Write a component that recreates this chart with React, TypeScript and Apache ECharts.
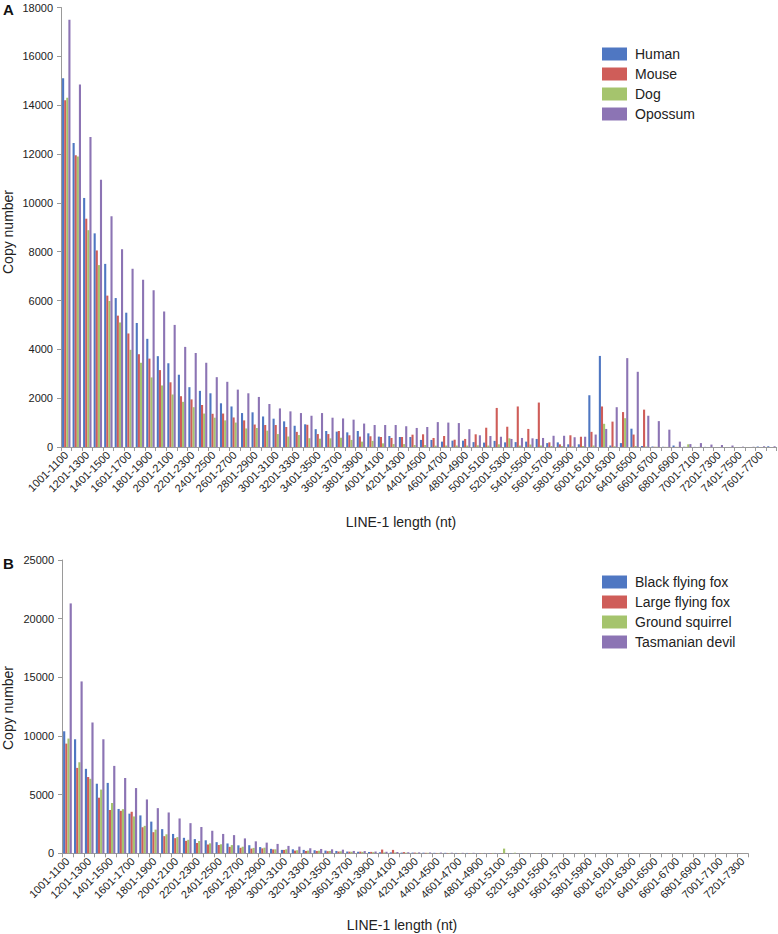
import React, { useEffect, useRef } from 'react';
import * as echarts from 'echarts';

const lengthBins = [
  '1001-1100','1101-1200','1201-1300','1301-1400','1401-1500','1501-1600','1601-1700','1701-1800','1801-1900','1901-2000',
  '2001-2100','2101-2200','2201-2300','2301-2400','2401-2500','2501-2600','2601-2700','2701-2800','2801-2900','2901-3000',
  '3001-3100','3101-3200','3201-3300','3301-3400','3401-3500','3501-3600','3601-3700','3701-3800','3801-3900','3901-4000',
  '4001-4100','4101-4200','4201-4300','4301-4400','4401-4500','4501-4600','4601-4700','4701-4800','4801-4900','4901-5000',
  '5001-5100','5101-5200','5201-5300','5301-5400','5401-5500','5501-5600','5601-5700','5701-5800','5801-5900','5901-6000',
  '6001-6100','6101-6200','6201-6300','6301-6400','6401-6500','6501-6600','6601-6700','6701-6800','6801-6900','6901-7000',
  '7001-7100','7101-7200','7201-7300','7301-7400','7401-7500','7501-7600','7601-7700','7701-7800'
];
const binsA = lengthBins;
const binsB = lengthBins.slice(0, 63);

// Panel A
const human = [15100,12450,10200,8750,7500,6100,5500,5080,4430,3720,3430,2960,2450,2300,2200,1790,1660,1390,1420,1250,1160,1050,870,930,730,655,630,600,655,560,425,450,410,410,290,290,220,260,260,200,180,250,190,200,220,330,160,190,110,110,2120,3730,60,160,750,40,20,10,60,10,5,5,0,0,0,0,20,30];
const mouse = [14200,11950,9350,8050,6200,5380,4650,3800,3620,3150,2650,2080,1950,1720,1360,1370,1210,1090,920,900,900,820,620,910,530,530,655,480,425,440,410,370,410,505,520,370,450,300,330,520,790,1600,830,1660,740,1820,190,110,480,420,620,1660,1040,1430,510,1530,10,5,5,5,0,0,0,0,0,0,0,0];
const dog = [14300,11900,8880,7450,5980,5100,3980,3450,2850,2520,2150,1850,1630,1370,1200,1090,1000,760,780,670,530,430,490,360,340,355,380,290,220,250,150,120,120,80,80,55,60,60,60,70,60,110,355,60,100,60,40,40,30,40,60,950,30,1180,40,20,10,5,5,110,5,0,0,0,0,0,0,0];
const opossum = [17500,14850,12700,10950,9450,8100,7300,6850,6420,5550,5000,4100,3850,3450,2860,2670,2350,2200,2050,1760,1580,1460,1390,1280,1390,1200,1170,1120,960,900,900,900,850,780,820,1020,1000,980,730,480,450,420,330,370,355,370,460,460,400,420,510,740,1630,3640,3080,1280,1060,710,220,120,160,100,80,60,15,10,30,30];

// Panel B
const blackFlyingFox = [10400,9720,7200,5930,6000,3780,3380,3230,2700,2060,1650,1320,1210,1110,950,840,680,690,530,380,290,340,290,260,230,200,150,130,110,90,80,60,60,50,40,40,30,30,20,20,20,20,20,15,15,15,10,10,10,10,10,10,10,10,5,5,5,5,5,5,5,5,5];
const largeFlyingFox = [9350,7280,6500,4740,3690,3620,3540,2220,1800,1460,1290,1060,880,750,710,550,470,400,420,330,290,230,200,200,180,150,140,140,120,320,290,100,60,40,30,30,20,20,20,20,20,10,10,10,10,10,10,5,5,5,5,5,5,5,5,5,5,5,5,5,5,5,5];
const groundSquirrel = [9780,7760,6350,5430,4290,3760,3140,2340,2020,1620,1380,1150,1050,850,770,700,560,460,480,340,340,260,230,220,200,170,130,120,100,80,70,50,40,40,30,30,20,20,20,30,400,50,20,20,15,15,10,30,10,10,10,10,5,5,5,5,5,5,5,5,5,5,5];
const tasmanianDevil = [21300,14650,11150,9720,7450,6420,5560,4590,3850,3480,2970,2570,2240,1920,1650,1550,1270,1020,910,800,630,570,430,370,340,310,200,190,150,130,110,90,80,70,60,50,40,40,30,30,30,20,20,20,15,15,10,10,10,10,10,10,5,5,5,5,5,5,5,5,5,5,5];

const namesA = ['Human', 'Mouse', 'Dog', 'Opossum'];
const namesB = ['Black flying fox', 'Large flying fox', 'Ground squirrel', 'Tasmanian devil'];
const colors = ['#4F77C2', '#CF5D59', '#A5C46D', '#8C74B4'];

const FONT = '"Liberation Sans", Arial, Helvetica, sans-serif';
const AXIS_COLOR = '#9a9a9a';
const TEXT_COLOR = '#222';

function buildOption() {
  const xAxisCommon = {
    type: 'category' as const,
    axisLine: { show: true, lineStyle: { color: AXIS_COLOR, width: 1 } },
    axisTick: { show: true, interval: 0, length: 4, lineStyle: { color: AXIS_COLOR } },
    axisLabel: { interval: 1, rotate: 45, fontSize: 11, color: TEXT_COLOR, fontFamily: FONT, margin: 6 },
    splitLine: { show: false },
  };
  const yAxisCommon = {
    type: 'value' as const,
    min: 0,
    axisLine: { show: true, lineStyle: { color: AXIS_COLOR, width: 1 } },
    axisTick: { show: true, length: 4, lineStyle: { color: AXIS_COLOR } },
    axisLabel: { fontSize: 11, color: TEXT_COLOR, fontFamily: FONT, margin: 8, formatter: (v: number) => String(v) },
    splitLine: { show: false },
  };
  const barCommon = {
    type: 'bar' as const,
    barGap: '0%',
    barCategoryGap: '20%',
  };
  const seriesA = [human, mouse, dog, opossum].map((d, i) => ({
    ...barCommon,
    name: namesA[i],
    xAxisIndex: 0,
    yAxisIndex: 0,
    data: d,
    itemStyle: { color: colors[i] },
  }));
  const seriesB = [blackFlyingFox, largeFlyingFox, groundSquirrel, tasmanianDevil].map((d, i) => ({
    ...barCommon,
    name: namesB[i],
    xAxisIndex: 1,
    yAxisIndex: 1,
    data: d,
    itemStyle: { color: colors[i] },
  }));
  const legendCommon = {
    orient: 'vertical' as const,
    icon: 'rect',
    itemWidth: 25,
    itemHeight: 13,
    itemGap: 6,
    padding: 0,
    textStyle: { fontSize: 14, color: TEXT_COLOR, fontFamily: FONT, padding: [0, 0, 0, 3] },
    selectedMode: false,
  };
  return {
    animation: false,
    backgroundColor: '#ffffff',
    textStyle: { fontFamily: FONT },
    grid: [
      { left: 61, top: 7.5, width: 715.7, height: 439.5 },
      { left: 62, top: 560, width: 686, height: 293.3 },
    ],
    xAxis: [
      { ...xAxisCommon, gridIndex: 0, data: binsA },
      { ...xAxisCommon, gridIndex: 1, data: binsB },
    ],
    yAxis: [
      { ...yAxisCommon, gridIndex: 0, max: 18000, interval: 2000 },
      { ...yAxisCommon, gridIndex: 1, max: 25000, interval: 5000 },
    ],
    legend: [
      { ...legendCommon, data: namesA, left: 602, top: 47 },
      { ...legendCommon, data: namesB, left: 602, top: 575 },
    ],
    series: [...seriesA, ...seriesB],
    graphic: [
      { type: 'text', left: 3, top: 2, style: { text: 'A', font: `bold 15px ${FONT}`, fill: '#111' } },
      { type: 'text', left: 3, top: 556, style: { text: 'B', font: `bold 15px ${FONT}`, fill: '#111' } },
      { type: 'text', x: 8, y: 232, rotation: Math.PI / 2, style: { text: 'Copy number', font: `14px ${FONT}`, fill: TEXT_COLOR, align: 'center', verticalAlign: 'middle' } },
      { type: 'text', x: 8, y: 708, rotation: Math.PI / 2, style: { text: 'Copy number', font: `14px ${FONT}`, fill: TEXT_COLOR, align: 'center', verticalAlign: 'middle' } },
      { type: 'text', x: 401, y: 522, style: { text: 'LINE-1 length (nt)', font: `14px ${FONT}`, fill: TEXT_COLOR, align: 'center', verticalAlign: 'middle' } },
      { type: 'text', x: 402, y: 925, style: { text: 'LINE-1 length (nt)', font: `14px ${FONT}`, fill: TEXT_COLOR, align: 'center', verticalAlign: 'middle' } },
    ],
  };
}

export default function App() {
  const ref = useRef<HTMLDivElement>(null);
  useEffect(() => {
    if (!ref.current) return;
    const chart = echarts.init(ref.current, null, { renderer: 'svg' });
    chart.setOption(buildOption() as any);
    return () => {
      chart.dispose();
    };
  }, []);
  return <div ref={ref} style={{ position: 'absolute', left: 0, top: 0, width: 778, height: 934 }} />;
}
